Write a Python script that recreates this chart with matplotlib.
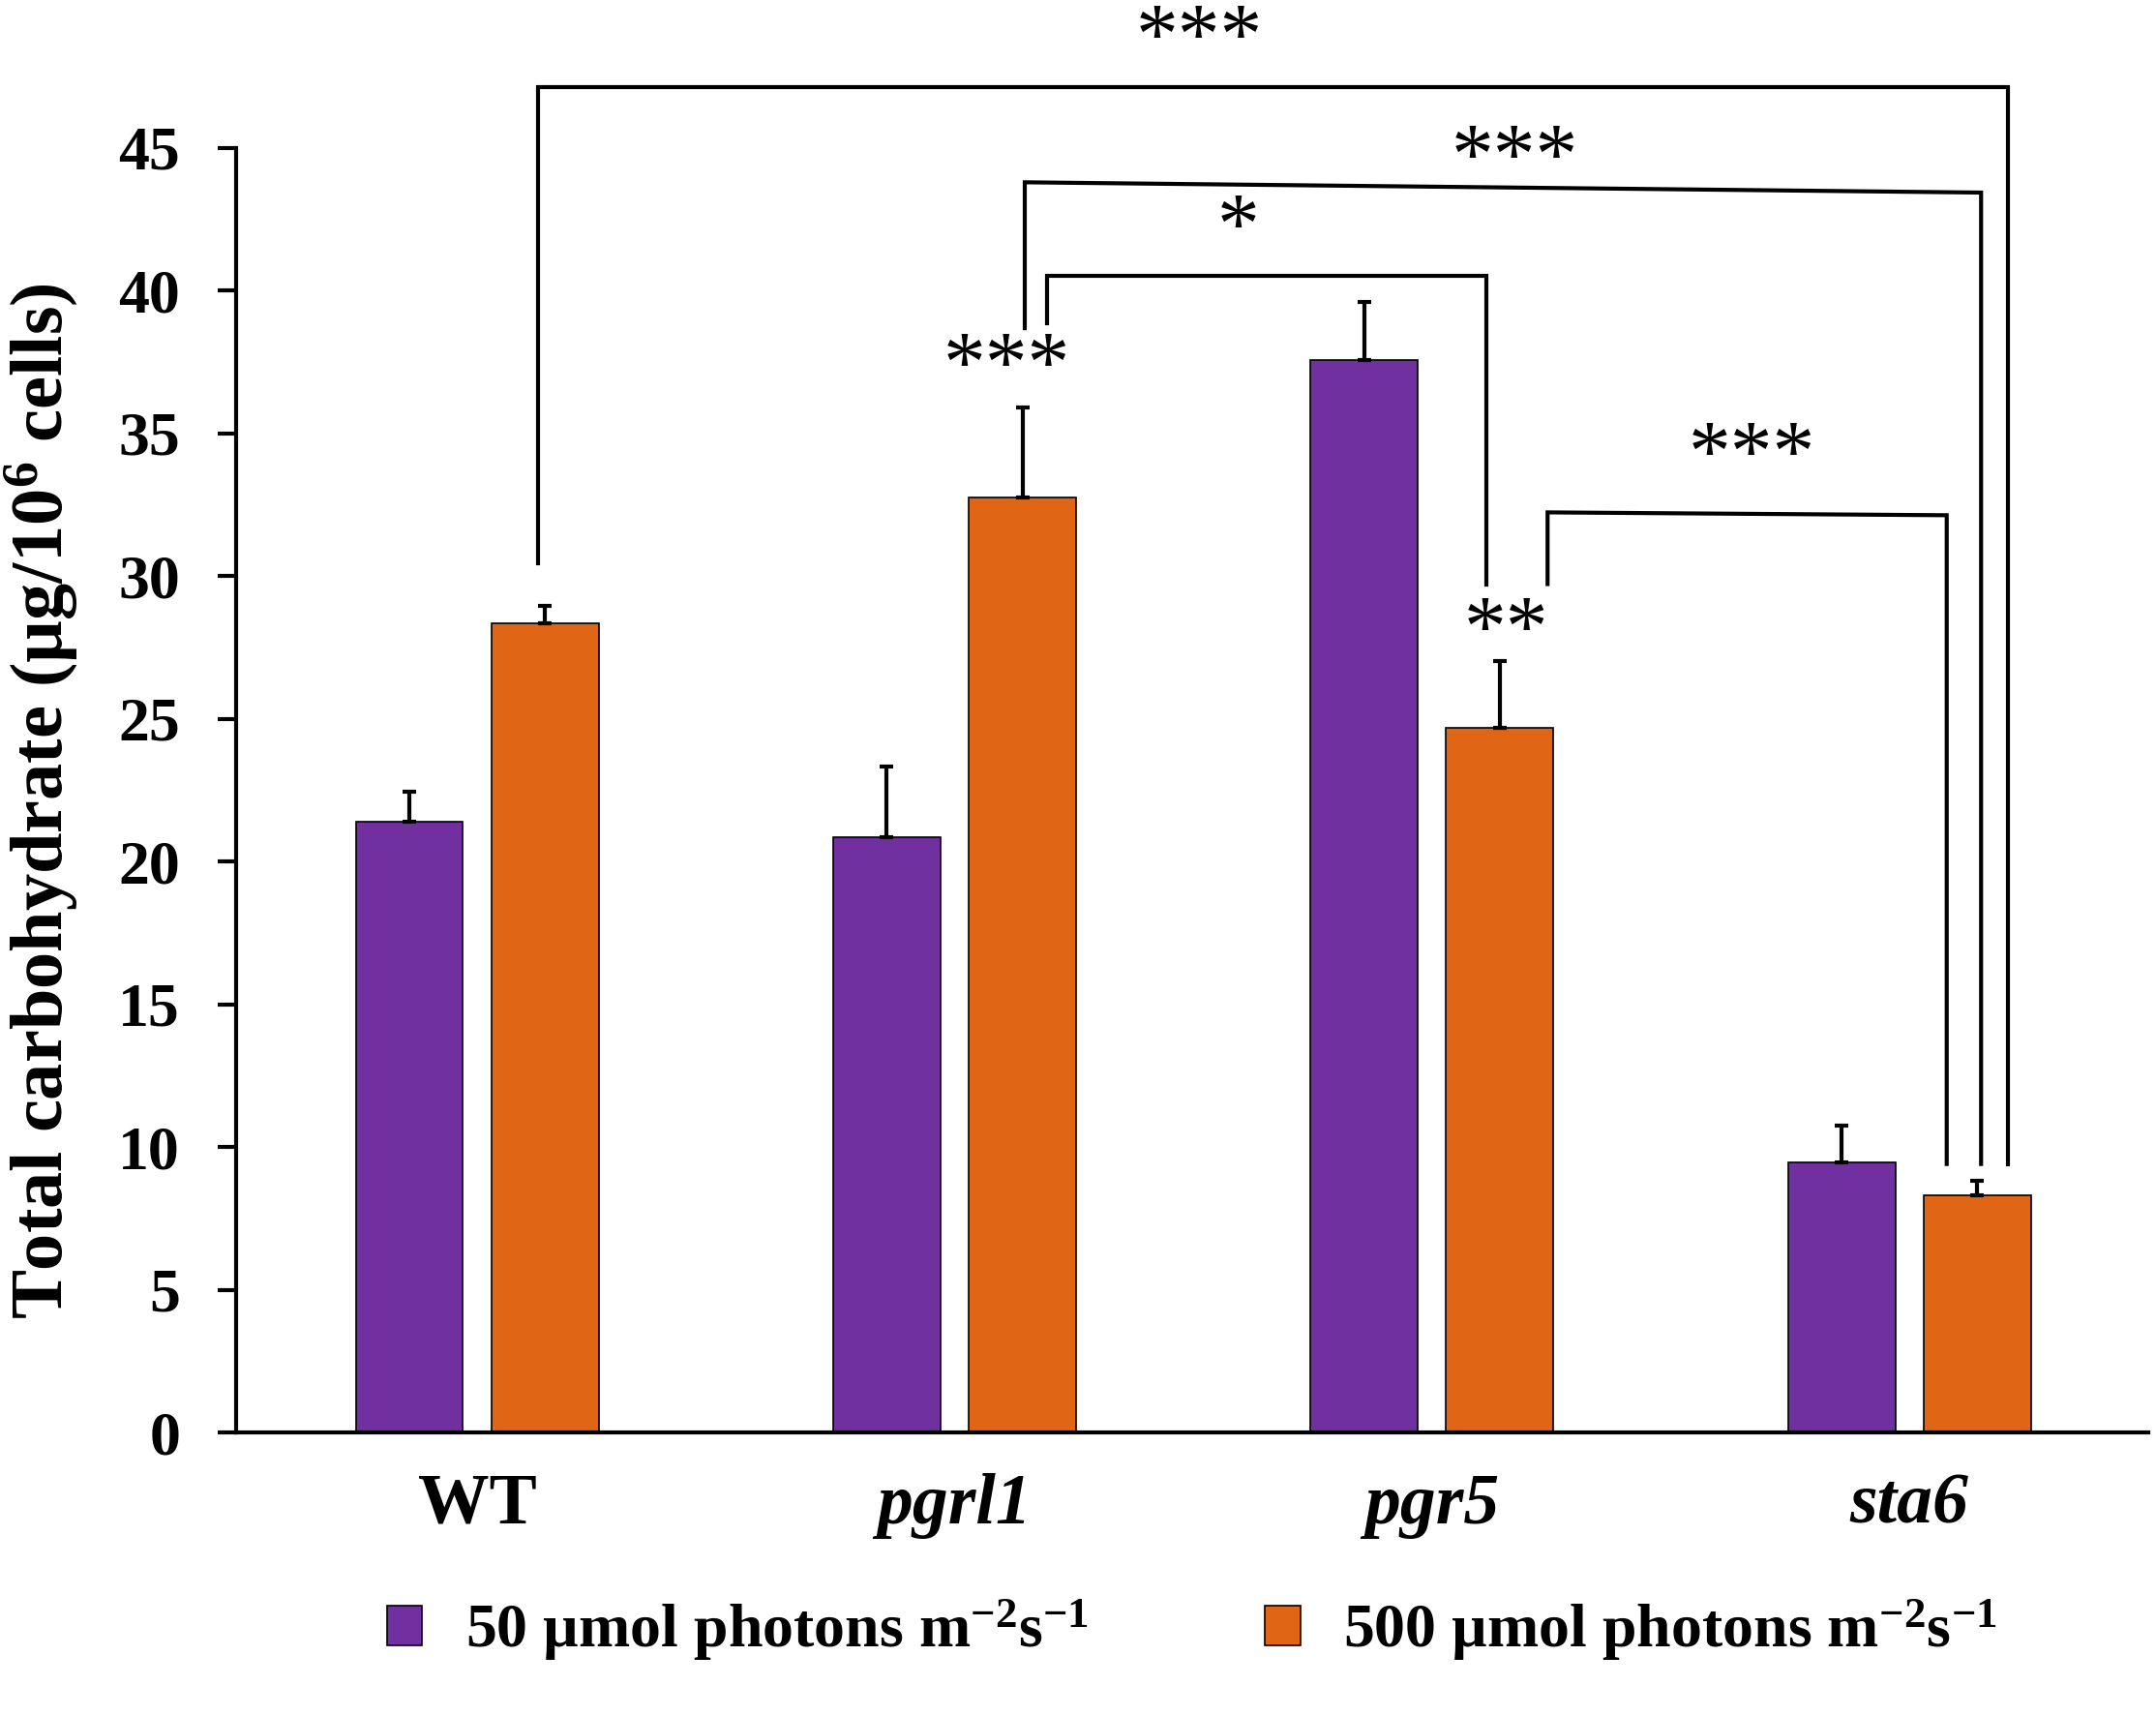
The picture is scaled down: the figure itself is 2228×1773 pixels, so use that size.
import matplotlib
matplotlib.use('Agg')
import matplotlib.pyplot as plt
import matplotlib.transforms as mtransforms
import numpy as np
from matplotlib.patches import Patch

plt.rcParams['font.family'] = ['Liberation Serif', 'DejaVu Serif']
plt.rcParams['font.weight'] = 'bold'
plt.rcParams['mathtext.fontset'] = 'custom'
plt.rcParams['mathtext.rm'] = 'Liberation Serif:bold'
plt.rcParams['mathtext.it'] = 'Liberation Serif:bold:italic'
plt.rcParams['mathtext.bf'] = 'Liberation Serif:bold'

# ---- data ----
strains = ['WT', 'pgrl1', 'pgr5', 'sta6']
low_light = [21.4, 20.85, 37.55, 9.45]       # 50 umol photons
low_err = [1.05, 2.48, 2.06, 1.30]
high_light = [28.35, 32.75, 24.7, 8.33]      # 500 umol photons
high_err = [0.62, 3.16, 2.33, 0.48]

series_labels = ['50 \u00b5mol photons m$^{-2}$s$^{-1}$',
                 '500 \u00b5mol photons m$^{-2}$s$^{-1}$']
purple = '#7030A0'
orange = '#E06515'

# significance brackets: x_left, y_left_bottom, y_left_top, x_right, y_right_top, y_right_bottom
brackets = [
    (0.128, 30.45, 47.11, 3.207, 47.11, 9.41),
    (1.147, 38.68, 43.79, 3.150, 43.43, 9.41),
    (1.193, 38.87, 40.50, 2.114, 40.50, 29.69),
    (2.242, 29.72, 32.23, 3.078, 32.13, 9.41),
]
# significance labels: x, y (centre), text
stars = [
    (1.513, 49.31, '***'),
    (2.173, 45.09, '***'),
    (1.595, 42.66, '*'),
    (2.670, 34.70, '***'),
    (1.110, 37.82, '***'),
    (2.156, 28.57, '**'),
]

fig = plt.figure(figsize=(22.28, 17.73), dpi=100)
ax = fig.add_axes([0.1097, 0.1651, 0.8869, 0.7488])

x = np.arange(len(strains))
w = 0.2248
off = 0.142

ax.bar(x - off, low_light, w, color=purple, edgecolor='black', linewidth=1.2, zorder=2)
ax.bar(x + off, high_light, w, color=orange, edgecolor='black', linewidth=1.2, zorder=2)
# upper-only error bars
ax.errorbar(x - off, low_light, yerr=[np.zeros(4), low_err], fmt='none', ecolor='black',
            elinewidth=3, capsize=5, capthick=3, zorder=3)
ax.errorbar(x + off, high_light, yerr=[np.zeros(4), high_err], fmt='none', ecolor='black',
            elinewidth=3, capsize=5, capthick=3, zorder=3)

for xl, yl0, yl1, xr, yr1, yr0 in brackets:
    ax.plot([xl, xl, xr, xr], [yl0, yl1, yr1, yr0], color='black', lw=3,
            clip_on=False, solid_joinstyle='miter', zorder=4)

for sx, sy, s in stars:
    ax.text(sx, sy - 1.3, s, ha='center', va='baseline', fontsize=63,
            fontweight='normal', clip_on=False)

ax.set_xlim(-0.504, 3.501)
ax.set_ylim(0, 45)
ax.set_yticks(np.arange(0, 46, 5))
ax.set_xticks(x)
ax.set_xticklabels(strains, fontsize=53, fontweight='bold')
shift = mtransforms.ScaledTranslation(-12 / 100, 0, fig.dpi_scale_trans)
for lbl in ax.get_xticklabels():
    lbl.set_transform(lbl.get_transform() + shift)
for lbl in ax.get_xticklabels()[1:]:
    lbl.set_style('italic')
ax.tick_params(axis='x', length=0, pad=30)
ax.tick_params(axis='y', length=14, width=3, pad=28, labelsize=46, direction='out')
for lbl in ax.get_yticklabels():
    lbl.set_fontweight('bold')

for side in ['top', 'right']:
    ax.spines[side].set_visible(False)
ax.spines['left'].set_linewidth(3)
ax.spines['bottom'].set_linewidth(3)

fig.text(0.019, 0.533, 'Total carbohydrate (\u00b5g/10$^{6}$ cells)', rotation=90,
         ha='center', va='center', fontsize=55, fontweight='bold')

handles = [Patch(facecolor=purple, edgecolor='black', linewidth=1.2),
           Patch(facecolor=orange, edgecolor='black', linewidth=1.2)]
fig.legend(handles, series_labels, loc='center', bbox_to_anchor=(0.553, 0.05), ncol=2,
           frameon=False, fontsize=46, handlelength=0.57, handleheight=0.62,
           handletextpad=0.7, columnspacing=2.85)

fig.savefig('out.png', dpi=100)
